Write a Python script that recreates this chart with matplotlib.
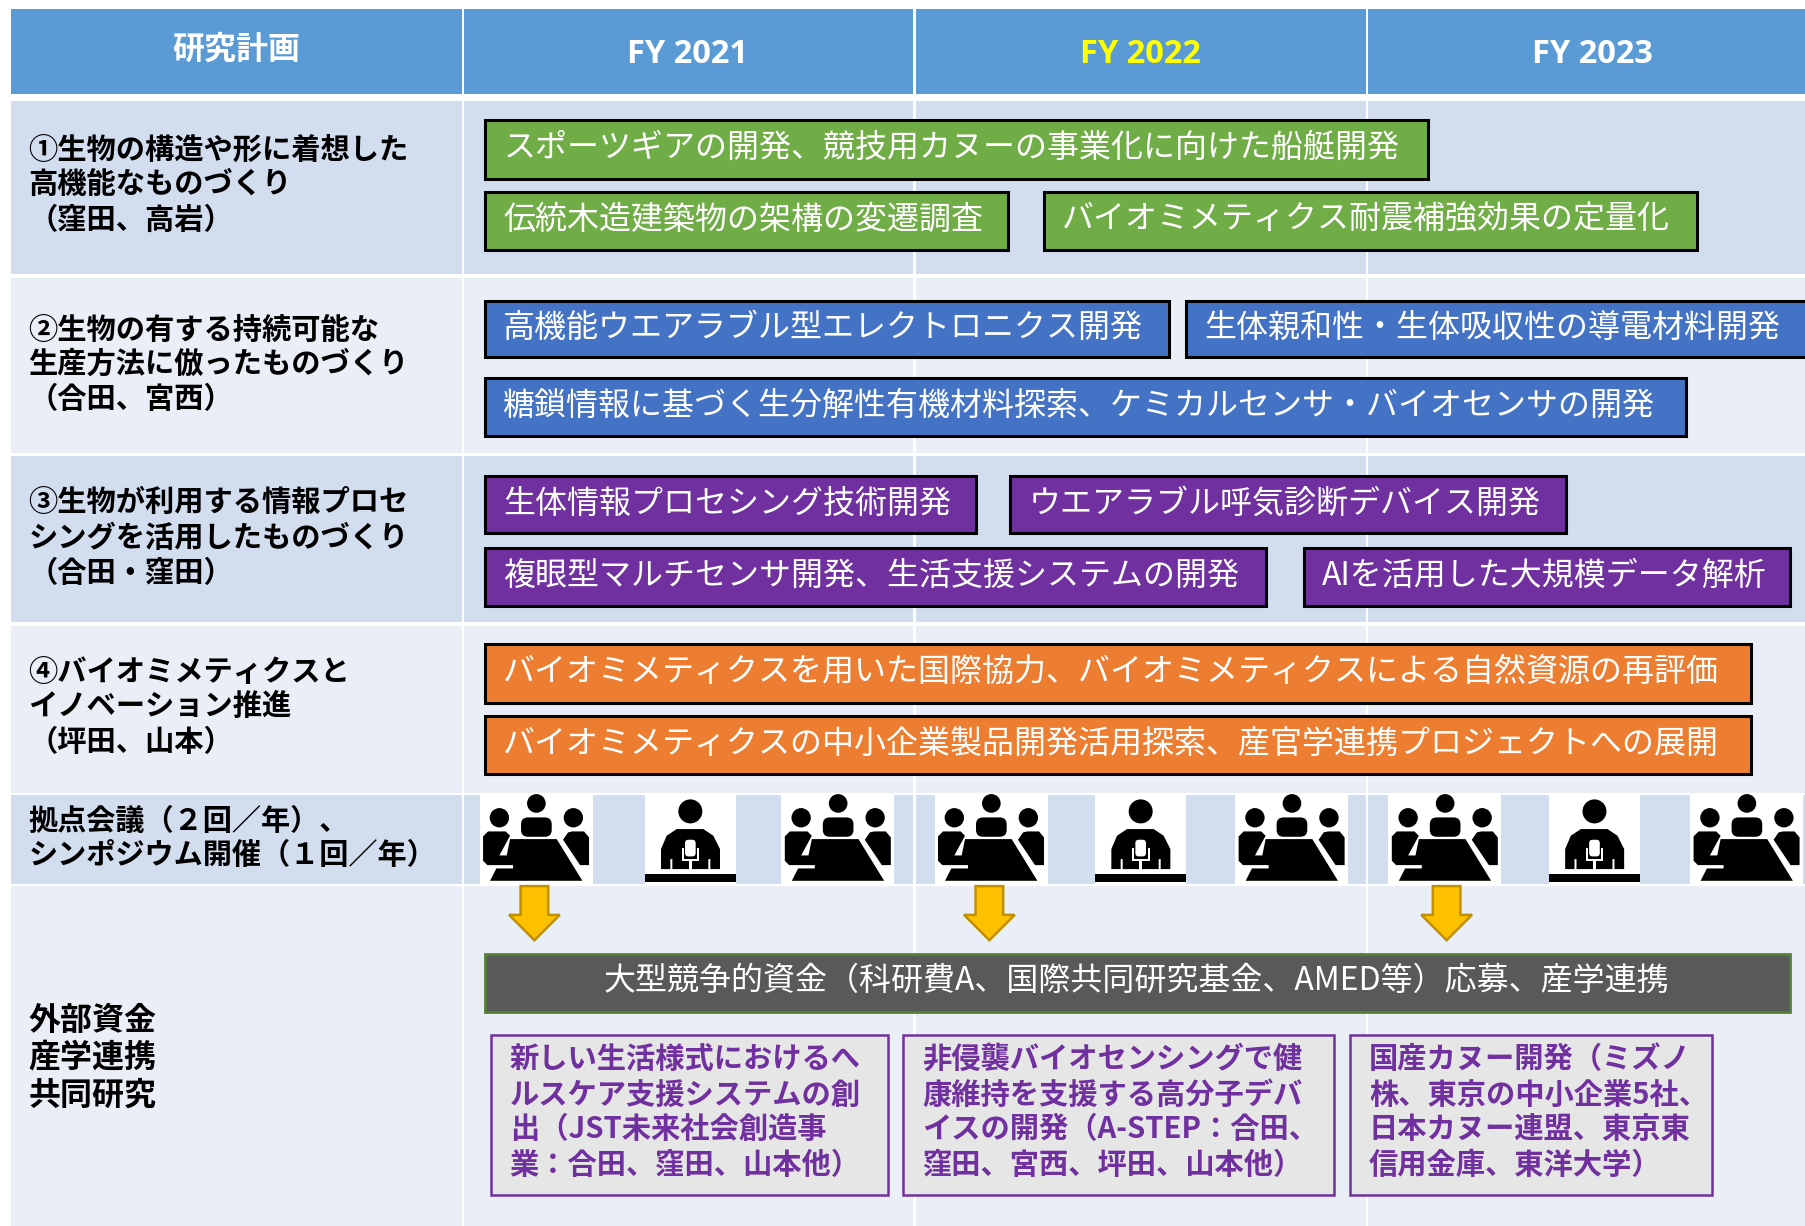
import matplotlib
matplotlib.use("Agg")
import matplotlib.pyplot as plt
from matplotlib.patches import Rectangle, Polygon, Circle, FancyBboxPatch

plt.rcParams['font.family'] = ['Noto Sans CJK JP', 'DejaVu Sans']

# text content
plan_title = "研究計画"
years = ["FY 2021", "FY 2022", "FY 2023"]
year_colors = ["white", "#FFFF00", "white"]

row_labels = [
    ["①生物の構造や形に着想した", "高機能なものづくり", "（窪田、高岩）"],
    ["②生物の有する持続可能な", "生産方法に倣ったものづくり", "（合田、宮西）"],
    ["③生物が利用する情報プロセ", "シングを活用したものづくり", "（合田・窪田）"],
    ["④バイオミメティクスと", "イノベーション推進", "（坪田、山本）"],
]
meeting_label = ["拠点会議（２回／年）、", "シンポジウム開催（１回／年）"]
funding_label = ["外部資金", "産学連携", "共同研究"]

green_labels = ["スポーツギアの開発、競技用カヌーの事業化に向けた船艇開発",
                "伝統木造建築物の架構の変遷調査",
                "バイオミメティクス耐震補強効果の定量化"]
blue_labels = ["高機能ウエアラブル型エレクトロニクス開発",
               "生体親和性・生体吸収性の導電材料開発",
               "糖鎖情報に基づく生分解性有機材料探索、ケミカルセンサ・バイオセンサの開発"]
purple_labels = ["生体情報プロセシング技術開発",
                 "ウエアラブル呼気診断デバイス開発",
                 "複眼型マルチセンサ開発、生活支援システムの開発",
                 "AIを活用した大規模データ解析"]
orange_labels = ["バイオミメティクスを用いた国際協力、バイオミメティクスによる自然資源の再評価",
                 "バイオミメティクスの中小企業製品開発活用探索、産官学連携プロジェクトへの展開"]
funding_bar = "大型競争的資金（科研費A、国際共同研究基金、AMED等）応募、産学連携"
projects = [
    ["新しい生活様式におけるへ", "ルスケア支援システムの創", "出（JST未来社会創造事", "業：合田、窪田、山本他）"],
    ["非侵襲バイオセンシングで健", "康維持を支援する高分子デバ", "イスの開発（A-STEP：合田、", "窪田、宮西、坪田、山本他）"],
    ["国産カヌー開発（ミズノ", "株、東京の中小企業5社、", "日本カヌー連盟、東京東", "信用金庫、東洋大学）"],
]

# box extents as x0, x1, y0, y1 in the 1568 wide layout
green_boxes = [(421, 1240, 104, 155), (421, 875, 167, 217), (906, 1473, 167, 217)]
blue_boxes = [(421, 1015, 261, 310), (1030, 1575, 261, 310), (421, 1464, 328, 378)]
purple_boxes = [(421, 847, 413, 463), (877, 1360, 413, 463), (421, 1099, 476, 526), (1132, 1554, 476, 526)]
orange_boxes = [(421, 1520, 559, 610), (421, 1520, 621, 672)]
project_boxes = [(426, 771, 898, 1037), (784, 1158, 898, 1037), (1172, 1486, 898, 1037)]

fig = plt.figure(figsize=(18.06, 12.26), dpi=100)
ax = fig.add_axes([0, 0, 1, 1])
ax.set_xlim(0, 1568)
ax.set_ylim(1064, 0)
ax.axis('off')

DARK = '#D2DEEF'
LIGHT = '#EAEFF7'
COL_X = [(9.5, 401), (403, 793), (795, 1186), (1188, 1568)]
ROWS = [(88, 238, DARK), (241, 393, LIGHT), (396, 540, DARK), (543, 688, LIGHT), (690, 767, DARK), (769, 1064, LIGHT)]


def rect(x0, x1, y0, y1, fc, ec='none', lw=0, z=1):
    ax.add_patch(Rectangle((x0, y0), x1 - x0, y1 - y0, facecolor=fc, edgecolor=ec, linewidth=lw, zorder=z))


def boxes(extents, labels, color):
    for (x0, x1, y0, y1), label in zip(extents, labels):
        rect(x0, x1, y0, y1, color, 'black', 2.2, 3)
        ax.text(x0 + 16, (y0 + y1) / 2 - 1, label, color='white', fontsize=23, va='center', ha='left', zorder=4)


def pts(ox, oy, xy):
    # icon shapes are noted in pixels of a 3x crop, with their origin at the icon's corner
    return [(ox + x / 3 / 1.1518, oy + y / 3 / 1.1518) for x, y in xy]


def meeting_icon(ox, oy):
    k = 1 / 3 / 1.1518
    rect(ox, ox + 339 * k, oy, oy + 281 * k, 'white', z=2)
    for cx, cy, r in [(170, 32, 28), (59, 75, 29), (281, 75, 29)]:
        ax.add_patch(Circle((ox + cx * k, oy + cy * k), r * k, fc='black', ec='none', zorder=3))
    ax.add_patch(FancyBboxPatch((ox + 124 * k, oy + 74 * k), 92 * k, 58 * k, boxstyle="round,pad=0,rounding_size=6",
                                fc='black', ec='none', zorder=3))
    ax.add_patch(Polygon(pts(ox, oy, [(91, 139), (231, 139), (308, 264), (31, 264), (50, 227), (100, 227), (100, 217),
                                      (23, 217), (10, 204), (10, 131), (25, 116), (78, 116), (91, 129), (59, 188), (81, 188)]),
                         fc='black', ec='none', zorder=3))
    ax.add_patch(Polygon(pts(ox, oy, [(250, 141), (265, 119), (278, 116), (313, 116), (328, 134), (328, 217), (301, 217)]),
                         fc='black', ec='none', zorder=3))


def podium_icon(ox, oy):
    k = 1 / 3 / 1.1518
    rect(ox, ox + 273 * k, oy, oy + 272 * k, 'white', z=2)
    ax.add_patch(Circle((ox + 136 * k, oy + 49 * k), 36 * k, fc='black', ec='none', zorder=3))
    ax.add_patch(Polygon(pts(ox, oy, [(48, 222), (48, 162), (65, 122), (95, 102), (175, 102), (205, 122), (225, 162), (225, 222),
                                      (196, 222), (196, 192), (190, 192), (190, 222), (82, 222), (82, 192), (76, 192), (76, 222)]),
                         fc='black', ec='none', zorder=3))
    # microphone: white pill, U shaped holder and stand
    ax.add_patch(FancyBboxPatch((ox + 120 * k, oy + 134 * k), 32 * k, 50 * k, boxstyle="round,pad=0,rounding_size=3",
                                fc='white', ec='none', zorder=4))
    rect(ox + 110 * k, ox + 116 * k, oy + 158 * k, oy + 197 * k, 'white', z=4)
    rect(ox + 157 * k, ox + 163 * k, oy + 158 * k, oy + 197 * k, 'white', z=4)
    rect(ox + 110 * k, ox + 163 * k, oy + 191 * k, oy + 197 * k, 'white', z=4)
    rect(ox + 132 * k, ox + 141 * k, oy + 197 * k, oy + 237 * k, 'white', z=4)
    rect(ox, ox + 273 * k, oy + 237 * k, oy + 262 * k, 'black', z=4)


def arrow(cx):
    ax.add_patch(Polygon([(cx - 12, 769), (cx + 12, 769), (cx + 12, 794), (cx + 22, 794), (cx, 816), (cx - 22, 794), (cx - 12, 794)],
                         fc='#FFC000', ec='#BF9000', lw=1.8, zorder=3))


# header band
for x0, x1 in COL_X:
    rect(x0, x1, 8, 82, '#5B9BD5')
ax.text(205, 43, plan_title, color='white', fontsize=23, fontweight='bold', ha='center', va='center', zorder=4)
for cx, year, col in zip((597, 990, 1383), years, year_colors):
    ax.text(cx, 47, year, color=col, fontsize=23.5, fontweight='bold',
            family='Open Sans', ha='center', va='center', zorder=4)

# table body
for y0, y1, color in ROWS:
    for x0, x1 in COL_X:
        rect(x0, x1, y0, y1, color)

# left column
for ys, lines in zip([(130, 160, 191), (286, 316, 346), (436, 467, 497), (583, 613, 644)], row_labels):
    for y, line in zip(ys, lines):
        ax.text(24.5, y, line, color='black', fontsize=21.1, fontweight='bold', ha='left', va='center', zorder=4)
for y, line in zip((712, 742), meeting_label):
    ax.text(24.5, y, line, color='black', fontsize=21, fontweight='bold', ha='left', va='center', zorder=4)
for y, line in zip((886, 918, 951), funding_label):
    ax.text(24.5, y, line, color='black', fontsize=23, fontweight='bold', ha='left', va='center', zorder=4)

# activity bars
boxes(green_boxes, green_labels, '#70AD47')
boxes(blue_boxes, blue_labels, '#4472C4')
boxes(purple_boxes, purple_labels, '#7030A0')
boxes(orange_boxes, orange_labels, '#ED7D31')

# meeting icons
for x in (416.5, 678.5, 811.5, 1072.5, 1205.5, 1467.5):
    meeting_icon(x, 688)
for x in (560, 951, 1345):
    podium_icon(x, 690)
for cx in (464, 859, 1256):
    arrow(cx)

# funding bar and project boxes
rect(421, 1554, 828, 878, '#595959', '#548235', 2.0, 3)
ax.text(987, 851, funding_bar, color='white', fontsize=23, ha='center', va='center', zorder=4)
for (x0, x1, y0, y1), lines in zip(project_boxes, projects):
    rect(x0, x1, y0, y1, '#E7E6E6', '#7030A0', 1.8, 3)
    for y, line in zip((919, 950, 980, 1011), lines):
        ax.text(x0 + 16.5, y, line, color='#7030A0', fontsize=21.1, fontweight='bold', ha='left', va='center', zorder=4)

plt.savefig("out.png", dpi=100)
